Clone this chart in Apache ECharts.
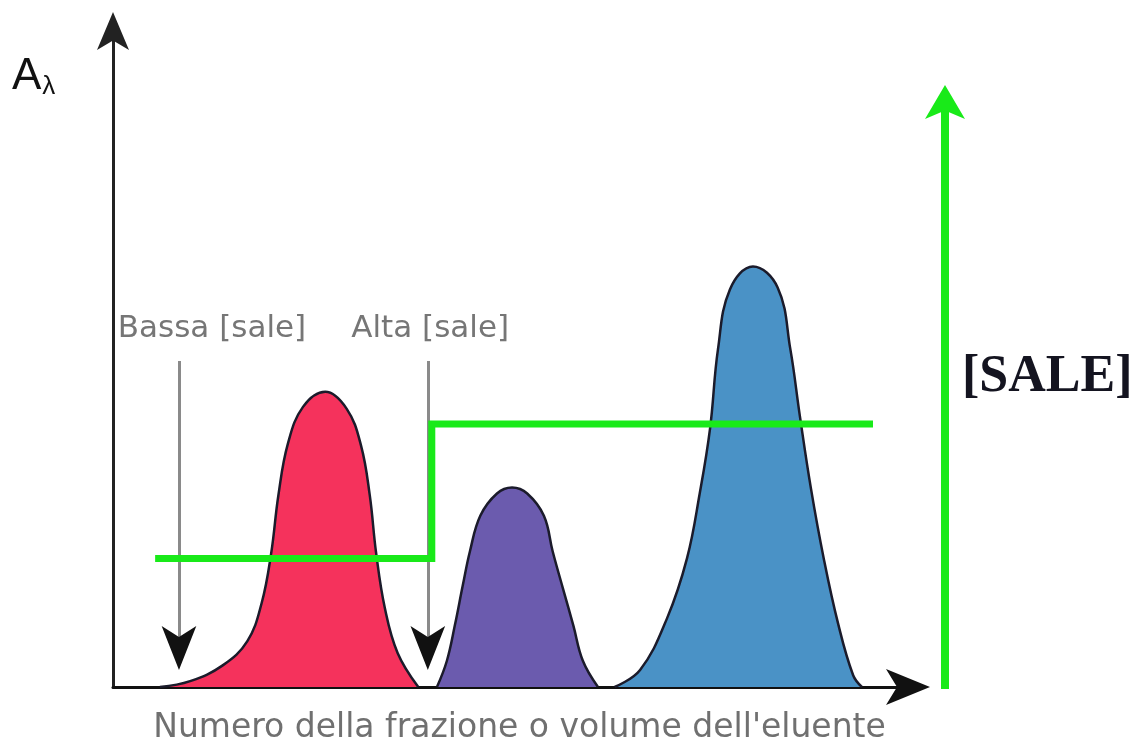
<!DOCTYPE html>
<html><head><meta charset="utf-8">
<script src="https://cdn.jsdelivr.net/npm/echarts@6/dist/echarts.min.js"></script>
<style>html,body{margin:0;padding:0;background:#fff}#c{width:1143px;height:750px}</style>
</head><body><div id="c"></div>
<script>
// Peak profiles (x: fraction / eluent volume units, y: absorbance units)
const redX    = [5.9, 9.7, 13.8, 16.9, 18.7, 19.9, 20.8, 22.0, 23.9, 26.7, 29.4, 31.2, 32.3, 33.1, 34.2, 35.8, 38.4];
const redY    = [0, 0.9, 3.3, 7.0, 12.8, 20.4, 29.2, 37.1, 42.7, 45.0, 42.4, 36.8, 29.2, 20.4, 12.0, 5.2, 0];
const purpleX = [40.75, 42.0, 43.0, 44.0, 44.9, 46.2, 48.3, 50.2, 52.1, 54.2, 55.3, 56.6, 57.9, 59.1, 61.0];
const purpleY = [0, 4.0, 9.4, 15.5, 20.7, 26.1, 29.5, 30.4, 29.5, 26.1, 20.7, 15.0, 9.4, 4.0, 0];
const blueX   = [63.1, 66.3, 69.7, 72.2, 73.8, 75.1, 76.1, 77.6, 80.5, 83.6, 85.2, 86.4, 87.8, 89.4, 91.2, 93.1, 94.2];
const blueY   = [0, 2.6, 10.5, 19.6, 29.5, 39.4, 51.5, 60.6, 64.1, 60.9, 51.5, 41.3, 30.2, 19.6, 9.7, 1.8, 0];
// Salt concentration step gradient
const saltX = [5.3, 40.1, 40.1, 95.6];
const saltY = [19.6, 19.6, 40.1, 40.1];
// Injection markers
const markerNames = ['Bassa [sale]', 'Alta [sale]'];
const markerX     = [8.3, 39.6];
const markerTop   = 49.7;
const markerTip   = 2.6;
const labelX      = [12.45, 39.9];
const labelY      = 54.6;
// Salt arrow on right (own axis 0..100)
const saltArrowTop = 91.8;

const pairs = (xs, ys) => xs.map((x, i) => [x, ys[i]]);
const outline = '#1b1b2b';
function peak(name, xs, ys, fill) {
  return {
    name, type: 'line', xAxisIndex: 0, yAxisIndex: 0,
    data: pairs(xs, ys), smooth: 0.4, symbol: 'none', z: 2,
    lineStyle: { color: outline, width: 2.5 },
    areaStyle: { color: fill, opacity: 1 }
  };
}

const chart = echarts.init(document.getElementById('c'));
chart.setOption({
  animation: false,
  backgroundColor: '#fff',
  grid: [
    { left: 113, right: 235, top: 31, bottom: 61 },
    { left: 930, width: 30, top: 31, bottom: 61 }
  ],
  xAxis: [
    {
      type: 'value', gridIndex: 0, min: 0, max: 100,
      axisLine: { show: true, onZero: true, lineStyle: { color: '#111', width: 3 }, symbol: ['none', 'arrow'], symbolSize: [27, 44], symbolOffset: [0, 22] },
      axisTick: { show: false }, axisLabel: { show: false }, splitLine: { show: false },
      name: "Numero della frazione o volume dell'eluente", nameLocation: 'middle', nameGap: 25,
      nameTextStyle: { fontSize: 33, color: '#707070', fontFamily: 'DejaVu Sans', verticalAlign: 'top', padding: [0, 0, 0, 18] }
    },
    { type: 'value', gridIndex: 1, min: 0, max: 1, show: false }
  ],
  yAxis: [
    {
      type: 'value', gridIndex: 0, min: 0, max: 100,
      axisLine: { show: true, lineStyle: { color: '#222', width: 3 }, symbol: ['none', 'arrow'], symbolSize: [24, 38], symbolOffset: [0, 19] },
      axisTick: { show: false }, axisLabel: { show: false }, splitLine: { show: false }
    },
    { type: 'value', gridIndex: 1, min: 0, max: 100, show: false }
  ],
  series: [
    peak('Picco 1', redX, redY, '#F5325C'),
    peak('Picco 2', purpleX, purpleY, '#6B5BAE'),
    peak('Picco 3', blueX, blueY, '#4A92C6'),
    {
      name: '[sale]', type: 'line', data: pairs(saltX, saltY), symbol: 'none', z: 5,
      lineStyle: { color: '#19EA19', width: 7, cap: 'butt', join: 'miter' },
      markLine: {
        silent: true, symbol: ['none', 'none'], animation: false,
        lineStyle: { color: '#8a8a8a', width: 3, type: 'solid' },
        label: { show: false },
        data: markerX.map(x => [{ coord: [x, markerTop] }, { coord: [x, markerTip + 2] }])
      },
      markPoint: {
        silent: true, symbol: 'circle', symbolSize: 0,
        label: { show: true, position: 'inside', formatter: '{b}', fontSize: 31, color: '#767676', fontFamily: 'DejaVu Sans' },
        data: markerNames.map((n, i) => ({ name: n, coord: [labelX[i], labelY] }))
      }
    },
    {
      name: 'frecce', type: 'line', data: [], z: 6,
      markLine: {
        silent: true, symbol: ['none', 'arrow'], symbolSize: [26, 44], animation: false,
        lineStyle: { color: '#111', width: 0, type: 'solid' },
        label: { show: false },
        data: markerX.map(x => [{ coord: [x, markerTip + 6] }, { coord: [x, markerTip] }])
      }
    },
    {
      name: '[SALE]', type: 'line', xAxisIndex: 1, yAxisIndex: 1, data: [], z: 6,
      markLine: {
        silent: true, symbol: ['none', 'none'], animation: false,
        lineStyle: { color: '#19EA19', width: 8, type: 'solid' },
        label: { show: false },
        data: [[{ coord: [0.5, 0] }, { coord: [0.5, saltArrowTop - 3] }]]
      }
    },
    {
      name: '[SALE] punta', type: 'line', xAxisIndex: 1, yAxisIndex: 1, data: [], z: 7,
      markLine: {
        silent: true, symbol: ['none', 'arrow'], symbolSize: [30, 34], animation: false,
        lineStyle: { color: '#19EA19', width: 0, type: 'solid' },
        label: { show: false },
        data: [[{ coord: [0.5, saltArrowTop - 6] }, { coord: [0.5, saltArrowTop] }]]
      }
    }
  ],
  graphic: [
    { type: 'text', left: 12, top: 55, style: { text: '{a|A}{s|λ}', rich: { a: { fontSize: 44, fontFamily: 'Liberation Sans', fill: '#111' }, s: { fontSize: 26, fontFamily: 'Liberation Sans', fill: '#111', padding: [20, 0, 0, 1] } } } },
    { type: 'text', left: 962, top: 352, style: { text: '[SALE]', fontSize: 52, fontWeight: 'bold', fontFamily: 'Liberation Serif', fill: '#141420' } }
  ]
});
</script></body></html>
